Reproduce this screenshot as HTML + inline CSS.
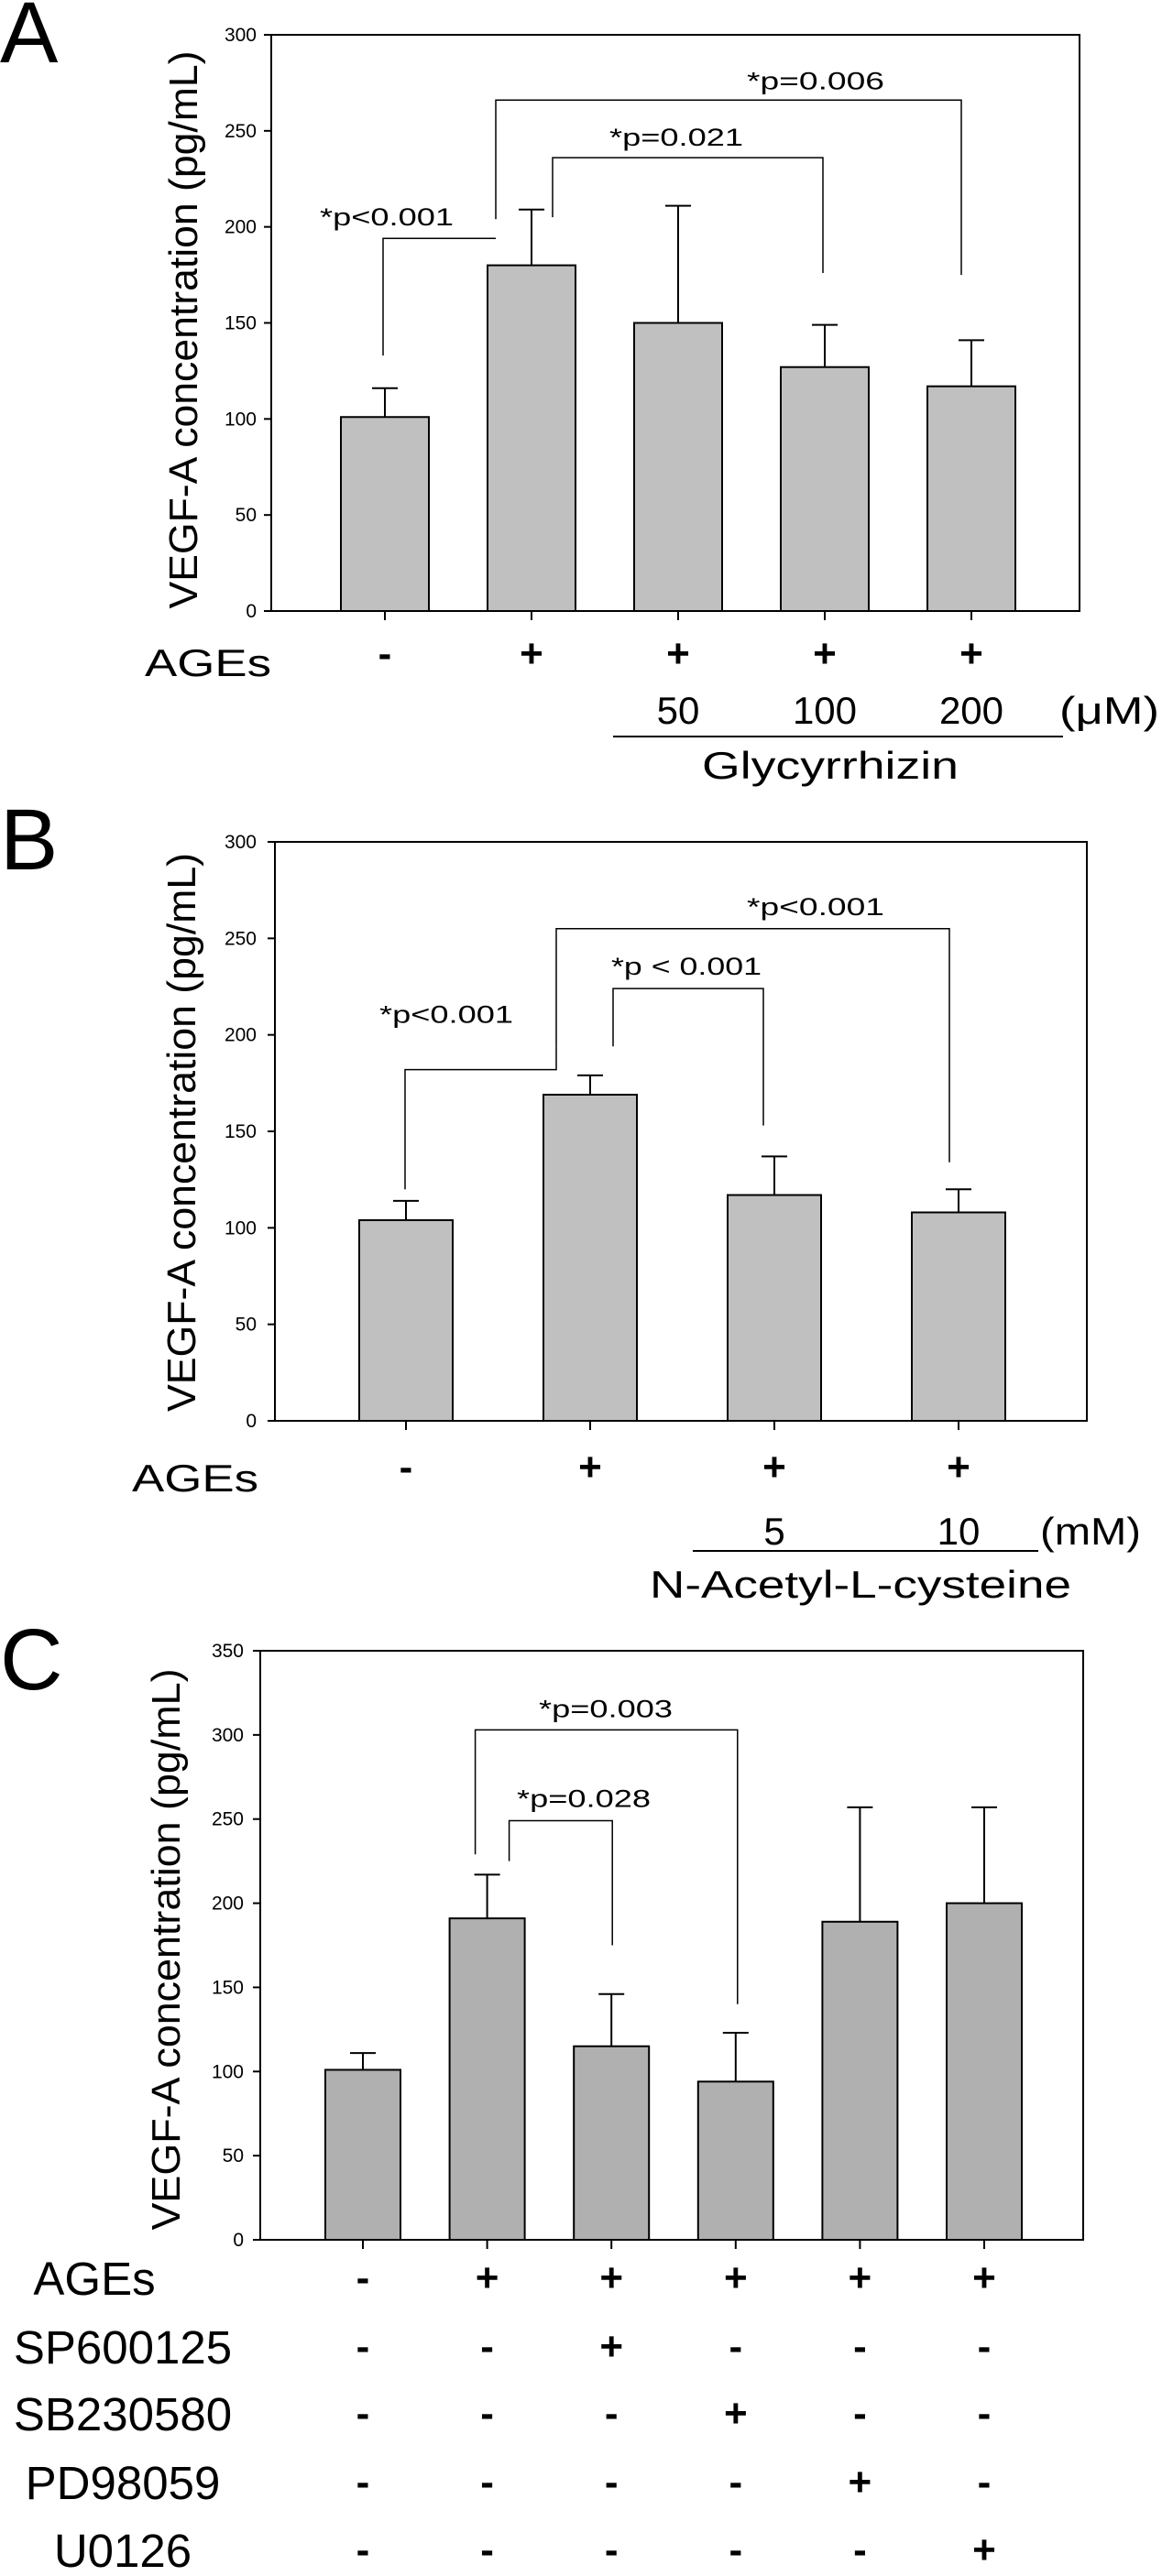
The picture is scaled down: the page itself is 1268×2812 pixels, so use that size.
<!DOCTYPE html>
<html><head><meta charset="utf-8"><style>
html,body{margin:0;padding:0;background:#fff;}
svg{display:block;font-family:"Liberation Sans",Arial,sans-serif;}
</style></head><body>
<svg id="fig" width="1268" height="2812" viewBox="0 0 1268 2812" xmlns="http://www.w3.org/2000/svg"></svg>
<script>
// ---- data ----
const aCategories = ["-", "+", "+", "+", "+"];
const aValues = [101, 180, 150, 127, 117];
const aErrors = [15, 29, 61, 22, 24];
const aTicks = [0, 50, 100, 150, 200, 250, 300];

const bCategories = ["-", "+", "+", "+"];
const bValues = [104, 169, 117, 108];
const bErrors = [10, 10, 20, 12];
const bTicks = [0, 50, 100, 150, 200, 250, 300];

const cCategories = ["-", "+", "+", "+", "+", "+"];
const cValues = [101, 191, 115, 94, 189, 200];
const cErrors = [10, 26, 31, 29, 68, 57];
const cTicks = [0, 50, 100, 150, 200, 250, 300, 350];
const cRowLabels = ["AGEs", "SP600125", "SB230580", "PD98059", "U0126"];
const cRowSigns = [
  ["-", "+", "+", "+", "+", "+"],
  ["-", "-", "+", "-", "-", "-"],
  ["-", "-", "-", "+", "-", "-"],
  ["-", "-", "-", "-", "+", "-"],
  ["-", "-", "-", "-", "-", "+"]
];

const NS = "http://www.w3.org/2000/svg";
const svg = document.getElementById("fig");
function mk(tag, attrs, parent) {
  const e = document.createElementNS(NS, tag);
  for (const k in attrs) e.setAttribute(k, attrs[k]);
  (parent || svg).appendChild(e);
  return e;
}
function txt(s, attrs, parent) {
  const e = mk("text", attrs, parent);
  e.textContent = s;
  return e;
}

function panel(cfg) {
  const g = mk("g", {});
  
  
  const y = v => cfg.yBot - (v / cfg.max) * (cfg.yBot - cfg.yTop);
  const x = i => cfg.c0 + i * cfg.sp;
  const L = txt(cfg.letter, {x: 0, y: cfg.letterY, "font-size": 95}, g);
  
  
  cfg.values.forEach((v, i) => {
    const r = mk("rect", {x: x(i) - cfg.bw / 2, y: y(v), width: cfg.bw, height: cfg.yBot - y(v), fill: cfg.fill, stroke: "#000", "stroke-width": 2}, g);
    
    
    const top = y(v + cfg.errors[i]);
    const eb = mk("path", {d: `M${x(i)} ${y(v)}V${top}M${x(i) - 14} ${top}H${x(i) + 14}`, stroke: "#000", "stroke-width": 2, fill: "none"}, g);
    
    
    const tk = mk("line", {x1: x(i), x2: x(i), y1: cfg.yBot, y2: cfg.yBot + 10, stroke: "#000", "stroke-width": 2}, g);
    
    
  });
  const fr = mk("rect", {x: cfg.x0, y: cfg.yTop, width: cfg.x1 - cfg.x0, height: cfg.yBot - cfg.yTop, fill: "none", stroke: "#000", "stroke-width": 2}, g);
  
  
  cfg.ticks.forEach(t => {
    const tl = mk("line", {x1: cfg.x0 - 8, x2: cfg.x0, y1: y(t), y2: y(t), stroke: "#000", "stroke-width": 2}, g);
    
    
    const lb = txt(String(t), {x: cfg.tickRight, y: y(t) + 7, "font-size": 21, "text-anchor": "end"}, g);
    
    
  });
  const yt = txt("VEGF-A concentration (pg/mL)", {x: 0, y: 0, "font-size": 44, textLength: cfg.titleLen, lengthAdjust: "spacingAndGlyphs", "text-anchor": "middle", transform: `translate(${cfg.titleX},${cfg.titleY}) rotate(-90)`}, g);
  
  
  cfg.brackets.forEach(b => {
    const xl = x(b.i) + b.dl, xr = x(b.j) + b.dr;
    const p = mk("path", {d: `M${xl} ${y(b.lb)}V${y(b.top)}H${xr}V${y(b.rb)}`, stroke: "#000", "stroke-width": 1.5, fill: "none"}, g);
    
    
    const t = txt(b.label, {x: b.lx, y: y(b.top) - b.ly, "font-size": 27, textLength: b.lw, lengthAdjust: "spacingAndGlyphs"}, g);
    
    
  });
  cfg.cats.forEach((s, i) => {
    const t = txt(s, {x: x(i), y: cfg.rowY, "font-size": 44, "font-weight": "bold", "text-anchor": "middle"}, g);
    
    
  });
  return {g, x, y};
}

// Panel A
const A = panel({name: "panel-a", letter: "A", letterY: 68, x0: 296, x1: 1178, yTop: 38, yBot: 667, max: 300,
  c0: 420, sp: 160, bw: 96, fill: "#c0c0c0", values: aValues, errors: aErrors, ticks: aTicks, tickRight: 280,
  titleX: 215, titleY: 360, titleLen: 609, cats: aCategories, rowY: 728,
  brackets: [
    {i: 0, j: 1, dl: -2, dr: -39, lb: 133, top: 194, rb: 194, label: "*p<0.001", lx: 349, ly: 14, lw: 146},
    {i: 1, j: 4, dl: -39, dr: -11, lb: 204, top: 266, rb: 175, label: "*p=0.006", lx: 815, ly: 12, lw: 150},
    {i: 1, j: 3, dl: 23, dr: -2, lb: 205, top: 236, rb: 176, label: "*p=0.021", lx: 665, ly: 13, lw: 146}
  ]});
{
  const ag = txt("AGEs", {x: 158, y: 738, "font-size": 42, textLength: 138, lengthAdjust: "spacingAndGlyphs"});
  
  
  const doses = ["50", "100", "200"];
  doses.forEach((d, k) => {
    const t = txt(d, {x: A.x(k + 2), y: 790, "font-size": 42, "text-anchor": "middle"});
    
    
  });
  const u = txt("(μM)", {x: 1156, y: 790, "font-size": 42, textLength: 109, lengthAdjust: "spacingAndGlyphs"});
  
  
  const ln = mk("line", {x1: 669, x2: 1160, y1: 804, y2: 804, stroke: "#000", "stroke-width": 2});
  
  
  const gl = txt("Glycyrrhizin", {x: 906, y: 850, "font-size": 42, "text-anchor": "middle", textLength: 280, lengthAdjust: "spacingAndGlyphs"});
  
  
}

// Panel B
const B = panel({name: "panel-b", letter: "B", letterY: 949, x0: 300, x1: 1186, yTop: 919, yBot: 1551, max: 300,
  c0: 443, sp: 201, bw: 102, fill: "#c0c0c0", values: bValues, errors: bErrors, ticks: bTicks, tickRight: 280,
  titleX: 213, titleY: 1236, titleLen: 610, cats: bCategories, rowY: 1616,
  brackets: [
    {i: 0, j: 1, dl: -1, dr: -37, lb: 120, top: 182, rb: 194, label: "*p<0.001", lx: 414, ly: 51, lw: 146},
    {i: 1, j: 3, dl: -37, dr: -10, lb: 194, top: 255, rb: 134, label: "*p<0.001", lx: 815, ly: 15, lw: 150},
    {i: 1, j: 2, dl: 25, dr: -12, lb: 194, top: 224, rb: 153, label: "*p < 0.001", lx: 667, ly: 15, lw: 164}
  ]});
{
  const ag = txt("AGEs", {x: 144, y: 1628, "font-size": 42, textLength: 138, lengthAdjust: "spacingAndGlyphs"});
  
  
  const doses = ["5", "10"];
  doses.forEach((d, k) => {
    const t = txt(d, {x: B.x(k + 2), y: 1686, "font-size": 42, "text-anchor": "middle"});
    
    
  });
  const u = txt("(mM)", {x: 1135, y: 1686, "font-size": 42, textLength: 110, lengthAdjust: "spacingAndGlyphs"});
  
  
  const ln = mk("line", {x1: 756, x2: 1133, y1: 1693, y2: 1693, stroke: "#000", "stroke-width": 2});
  
  
  const nl = txt("N-Acetyl-L-cysteine", {x: 709, y: 1744, "font-size": 42, textLength: 460, lengthAdjust: "spacingAndGlyphs"});
  
  
}

// Panel C
const C = panel({name: "panel-c", letter: "C", letterY: 1844, x0: 284, x1: 1182, yTop: 1802, yBot: 2445, max: 350,
  c0: 396, sp: 135.6, bw: 82, fill: "#b0b0b0", values: cValues, errors: cErrors, ticks: cTicks, tickRight: 266,
  titleX: 196, titleY: 2128, titleLen: 613, cats: [], rowY: 0,
  brackets: [
    {i: 1, j: 2, dl: 24, dr: 1, lb: 225, top: 249, rb: 175, label: "*p=0.028", lx: 564, ly: 15, lw: 146},
    {i: 1, j: 3, dl: -13, dr: 2, lb: 229, top: 303, rb: 140, label: "*p=0.003", lx: 588, ly: 14, lw: 146}
  ]});
{
  const rowBase = [2505, 2580, 2653, 2728, 2802];
  cRowLabels.forEach((lab, r) => {
    const t = txt(lab, {x: r === 0 ? 103 : 134, y: rowBase[r], "font-size": 51, "text-anchor": "middle"});
    
    
    cRowSigns[r].forEach((s, i) => {
      const sg = txt(s, {x: C.x(i), y: rowBase[r] - 4, "font-size": 44, "font-weight": "bold", "text-anchor": "middle"});
      
      
    });
  });
}
</script>
</body></html>
